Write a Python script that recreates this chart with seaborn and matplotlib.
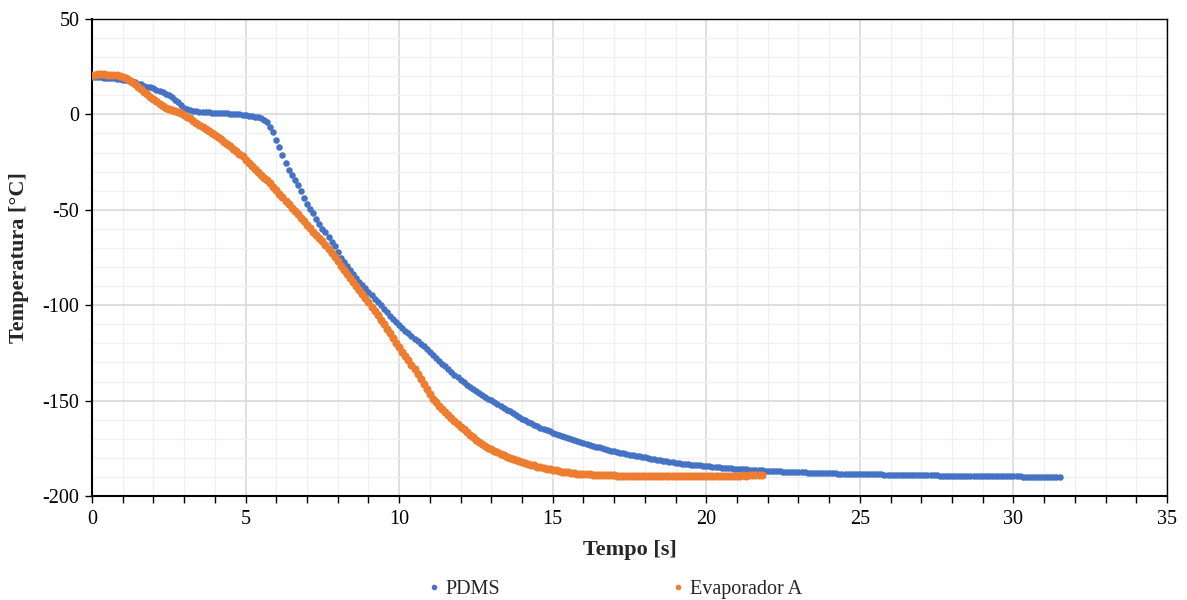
import numpy as np
import pandas as pd
import matplotlib
matplotlib.use("Agg")
import matplotlib.pyplot as plt
from matplotlib.lines import Line2D
from matplotlib.ticker import MultipleLocator
import seaborn as sns

# sampling interval of the logger [s]
dt = 0.1

# PDMS temperature [°C], one reading every 0.1 s from t = 0
temp_pdms = [
    19.6, 19.5, 19.4, 19.4, 19.3, 19.2, 19.1, 19.0, 18.8, 18.6,
    18.3, 18.0, 17.7, 17.3, 16.8, 16.2, 15.7, 15.1, 14.6, 14.2,
    13.7, 13.0, 12.3, 11.6, 10.8, 10.0, 9.0, 7.8, 6.4, 5.0,
    3.6, 2.7, 2.1, 1.8, 1.6, 1.5, 1.4, 1.3, 1.2, 1.0,
    0.9, 0.8, 0.7, 0.6, 0.5, 0.3, 0.2, 0.1, 0.0, -0.2,
    -0.4, -0.6, -0.8, -1.1, -1.4, -2.0, -2.8, -4.2, -6.4, -9.4,
    -13.2, -17.0, -21.5, -25.6, -29.0, -31.8, -34.6, -37.2, -40.2, -43.8,
    -47.0, -49.6, -51.9, -54.6, -57.3, -59.8, -61.8, -64.4, -66.8, -69.2,
    -72.0, -75.3, -77.2, -79.2, -81.6, -83.6, -85.8, -87.6, -89.6, -91.0,
    -92.9, -94.8, -96.6, -98.4, -100.0, -102.1, -103.8, -105.7, -107.3, -108.9,
    -110.4, -111.9, -113.4, -114.8, -116.2, -117.5, -118.9, -120.4, -121.6, -123.0,
    -124.4, -125.9, -127.5, -129.1, -130.6, -132.1, -133.6, -135.0, -136.4, -137.8,
    -139.2, -140.5, -141.7, -142.9, -144.0, -145.1, -146.1, -147.1, -148.0, -148.9,
    -149.8, -150.8, -151.8, -152.8, -153.8, -154.8, -155.7, -156.7, -157.6, -158.5,
    -159.4, -160.2, -161.0, -161.8, -162.6, -163.4, -164.1, -164.8, -165.5, -166.1,
    -166.8, -167.4, -167.9, -168.5, -169.0, -169.6, -170.1, -170.6, -171.1, -171.6,
    -172.1, -172.6, -173.1, -173.6, -174.1, -174.5, -175.0, -175.4, -175.8, -176.2,
    -176.6, -177.0, -177.4, -177.7, -178.0, -178.3, -178.6, -178.9, -179.2, -179.5,
    -179.8, -180.1, -180.4, -180.7, -181.0, -181.3, -181.6, -181.9, -182.2, -182.4,
    -182.6, -182.8, -183.0, -183.2, -183.4, -183.6, -183.7, -183.9, -184.0, -184.2,
    -184.3, -184.5, -184.6, -184.8, -184.9, -185.1, -185.2, -185.4, -185.5, -185.6,
    -185.8, -185.9, -186.0, -186.1, -186.2, -186.3, -186.4, -186.5, -186.6, -186.7,
    -186.8, -186.9, -187.0, -187.1, -187.1, -187.2, -187.3, -187.3, -187.4, -187.5,
    -187.5, -187.6, -187.6, -187.7, -187.7, -187.8, -187.8, -187.9, -187.9, -188.0,
    -188.0, -188.1, -188.1, -188.2, -188.2, -188.3, -188.3, -188.3, -188.4, -188.4,
    -188.5, -188.5, -188.5, -188.6, -188.6, -188.7, -188.7, -188.7, -188.8, -188.8,
    -188.8, -188.9, -188.9, -188.9, -189.0, -189.0, -189.0, -189.0, -189.1, -189.1,
    -189.1, -189.1, -189.2, -189.2, -189.2, -189.2, -189.3, -189.3, -189.3, -189.3,
    -189.4, -189.3, -189.4, -189.4, -189.4, -189.4, -189.5, -189.5, -189.5, -189.5,
    -189.5, -189.5, -189.6, -189.6, -189.6, -189.6, -189.6, -189.7, -189.7, -189.7,
    -189.7, -189.7, -189.7, -189.8, -189.8, -189.8, -189.8, -189.8, -189.8, -189.9,
    -189.9, -189.9, -189.9, -190.0, -190.0, -190.0,
]

# Evaporador A temperature [°C], one reading every 0.1 s from t = 0
temp_evap = [
    20.6, 20.9, 21.2, 21.1, 21.0, 20.9, 20.7, 20.6, 20.5, 20.3,
    19.8, 19.0, 18.0, 17.0, 15.9, 14.6, 13.3, 12.0, 10.6, 9.3,
    8.0, 6.9, 5.6, 4.5, 3.5, 2.8, 2.3, 1.8, 1.2, 0.6,
    -0.2, -1.1, -2.1, -3.2, -4.3, -5.3, -6.4, -7.4, -8.5, -9.5,
    -10.6, -11.8, -13.0, -14.2, -15.4, -16.7, -17.9, -19.2, -20.6, -22.0,
    -23.8, -25.4, -27.0, -28.6, -30.1, -31.6, -33.1, -34.6, -36.2, -38.0,
    -39.8, -41.6, -43.4, -45.2, -47.0, -48.8, -50.6, -52.4, -54.2, -56.1,
    -58.0, -59.7, -61.4, -63.1, -64.8, -66.5, -68.4, -70.5, -72.6, -74.8,
    -77.0, -79.2, -81.4, -83.6, -85.8, -88.0, -90.1, -92.2, -94.3, -96.4,
    -98.5, -100.7, -103.0, -105.3, -107.6, -110.0, -112.4, -114.8, -117.2, -119.6,
    -122.0, -124.3, -126.6, -128.9, -131.2, -133.6, -136.1, -138.6, -141.2, -143.9,
    -146.6, -148.9, -150.9, -152.7, -154.4, -156.0, -157.5, -159.0, -160.5, -162.0,
    -163.6, -165.1, -166.5, -167.9, -169.2, -170.5, -171.7, -172.8, -173.8, -174.7,
    -175.6, -176.4, -177.1, -177.8, -178.5, -179.3, -179.9, -180.5, -181.0, -181.5,
    -182.0, -182.5, -183.0, -183.5, -183.9, -184.6, -185.0, -185.4, -185.7, -186.0,
    -186.3, -186.6, -186.9, -187.2, -187.4, -187.6, -187.8, -188.0, -188.2, -188.4,
    -188.5, -188.6, -188.7, -188.8, -188.9, -189.0, -189.0, -189.1, -189.1, -189.2,
    -189.2, -189.3, -189.3, -189.3, -189.4, -189.4, -189.4, -189.4, -189.5, -189.5,
    -189.5, -189.5, -189.5, -189.6, -189.5, -189.6, -189.6, -189.5, -189.6, -189.6,
    -189.6, -189.5, -189.6, -189.6, -189.5, -189.5, -189.6, -189.5, -189.5, -189.5,
    -189.5, -189.4, -189.5, -189.4, -189.4, -189.5, -189.4, -189.4, -189.3, -189.4,
    -189.3, -189.3, -189.2, -189.3, -189.2, -189.2, -189.1, -189.1, -189.0,
]

series_names = ["PDMS", "Evaporador A"]
colors = {"PDMS": "#4472C4", "Evaporador A": "#ED7D31"}

df_pdms = pd.DataFrame({"Tempo": [round(i * dt, 1) for i in range(len(temp_pdms))],
                        "Temperatura": temp_pdms, "Serie": "PDMS"})
df_evap = pd.DataFrame({"Tempo": [round(i * dt, 1) for i in range(len(temp_evap))],
                        "Temperatura": temp_evap, "Serie": "Evaporador A"})

sns.set_style("white")
plt.rcParams['font.family'] = ['Liberation Serif', 'DejaVu Serif']
plt.rcParams['axes.unicode_minus'] = False

fig = plt.figure(figsize=(11.87, 6.0), dpi=100)
ax = fig.add_axes([0.0775, 0.1733, 0.9057, 0.795])

sns.scatterplot(data=df_pdms, x="Tempo", y="Temperatura", color=colors["PDMS"],
                s=22, linewidth=0, ax=ax, zorder=3, legend=False)
sns.scatterplot(data=df_evap, x="Tempo", y="Temperatura", color=colors["Evaporador A"],
                s=34, linewidth=0, ax=ax, zorder=4, legend=False)

ax.set_xlim(0, 35)
ax.set_ylim(-200, 50)
ax.xaxis.set_major_locator(MultipleLocator(5))
ax.xaxis.set_minor_locator(MultipleLocator(1))
ax.yaxis.set_major_locator(MultipleLocator(50))
ax.yaxis.set_minor_locator(MultipleLocator(10))

ax.set_axisbelow(True)
ax.grid(which="major", color="#d9d9d9", linewidth=1.2)
ax.grid(which="minor", color="#f0f0f0", linewidth=1.0)

for sp in ax.spines.values():
    sp.set_color("black")
    sp.set_linewidth(1.0)
ax.spines["bottom"].set_linewidth(1.5)
ax.spines["left"].set_linewidth(1.5)

ax.tick_params(axis="x", which="both", direction="out", length=5, width=1,
               bottom=True, labelsize=14.5, pad=5, colors="black")
ax.tick_params(axis="y", which="major", direction="out", length=5, width=1,
               left=True, labelsize=14.5, pad=4, colors="black")
ax.tick_params(axis="y", which="minor", length=0)

ax.set_xlabel("Tempo [s]", fontsize=16, fontweight="bold", labelpad=8)
ax.set_ylabel("Temperatura [°C]", fontsize=16, fontweight="bold", labelpad=10)

handles = [Line2D([], [], linestyle="none", marker="o", markersize=4,
                  markerfacecolor=colors[n], markeredgewidth=0) for n in series_names]
fig.legend(handles, series_names, loc="center", bbox_to_anchor=(0.518, 0.017),
           ncol=2, frameon=False, fontsize=14.5, handlelength=0.6,
           handletextpad=0.3, columnspacing=8.5)

fig.savefig("out.png", dpi=100)
